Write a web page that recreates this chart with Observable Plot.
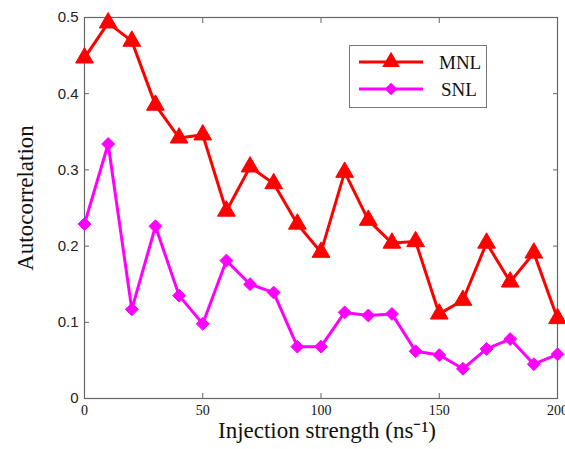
<!DOCTYPE html>
<html>
<head>
<meta charset="utf-8">
<script src="https://cdn.jsdelivr.net/npm/d3@7"></script>
<script src="https://cdn.jsdelivr.net/npm/@observablehq/plot@0.6"></script>
<style>
  html, body { margin: 0; padding: 0; background: #fff; }
  #wrap { position: relative; width: 565px; height: 449px; }
  #legend { position: absolute; left: 349px; top: 45px; width: 138px; height: 63px;
    border: 1px solid #777; background: #fff; box-sizing: border-box; }
</style>
</head>
<body>
<div id="wrap"></div>
<script>
const strengths = [0,10,20,30,40,50,60,70,80,90,100,110,120,130,140,150,160,170,180,190,200];
const mnl = [0.447,0.493,0.469,0.385,0.342,0.346,0.246,0.304,0.282,0.229,0.192,0.297,0.234,0.204,0.206,0.111,0.129,0.204,0.153,0.191,0.105];
const snl = [0.229,0.334,0.117,0.226,0.135,0.098,0.181,0.150,0.139,0.068,0.068,0.113,0.109,0.111,0.062,0.057,0.039,0.065,0.078,0.045,0.058];
const seriesNames = ["MNL", "SNL"];
const xTicks = [0,50,100,150,200];
const yTicks = [0,0.1,0.2,0.3,0.4,0.5];

const rowsM = strengths.map((x, i) => ({x, y: mnl[i]}));
const rowsS = strengths.map((x, i) => ({x, y: snl[i]}));

const serif = "'Liberation Serif', 'Times New Roman', serif";
const sans = "'Liberation Sans', Arial, sans-serif";

const chart = Plot.plot({
  width: 565,
  height: 449,
  marginLeft: 84,
  marginRight: 8,
  marginTop: 17,
  marginBottom: 51,
  style: {background: "#fff", overflow: "visible"},
  x: {domain: [0, 200]},
  y: {domain: [0, 0.5]},
  marks: [
    Plot.frame({stroke: "#666", strokeWidth: 1.2}),
    Plot.axisX(xTicks, {anchor: "bottom", tickSize: -5, stroke: "#666", tickPadding: 12,
      fontFamily: serif, fontSize: 14, fill: "#111", label: null}),
    Plot.axisX(xTicks, {anchor: "top", tickSize: -5, stroke: "#666", text: null, label: null}),
    Plot.axisY(yTicks, {anchor: "left", tickSize: -5, stroke: "#666", tickPadding: 11,
      fontFamily: sans, fontSize: 15, fill: "#222", label: null, tickFormat: d => d === 0 ? "0" : d3.format(".1f")(d)}),
    Plot.axisY(yTicks, {anchor: "right", tickSize: -5, stroke: "#666", text: null, label: null}),
    Plot.line(rowsS, {x: "x", y: "y", stroke: "#ff00ff", strokeWidth: 3}),
    Plot.dot(rowsS, {x: "x", y: "y", symbol: "diamond2", r: 5.8, fill: "#ff00ff", stroke: "#ff00ff", strokeWidth: 1}),
    Plot.line(rowsM, {x: "x", y: "y", stroke: "#ff0000", strokeWidth: 3}),
    Plot.dot(rowsM, {x: "x", y: "y", symbol: "triangle", r: 6.6, fill: "#ff0000", stroke: "#ff0000", strokeWidth: 1}),
    Plot.text(["Injection strength (ns\u207B\u00B9)"], {frameAnchor: "bottom", dx: 6, dy: 39, textAnchor: "middle", fontFamily: serif, fontSize: 23, fill: "#111"}),
    Plot.text(["Autocorrelation"], {frameAnchor: "left", dx: -59, dy: -10, textAnchor: "middle", rotate: -90, fontFamily: serif, fontSize: 23, fill: "#111"})
  ]
});
const wrap = document.getElementById("wrap");
wrap.appendChild(chart);

// Legend
const legend = document.createElement("div");
legend.id = "legend";
const colors = ["#ff0000", "#ff00ff"];
const syms = [d3.symbolTriangle, d3.symbolDiamond2];
const symSize = [135, 100];
const lsvg = d3.create("svg").attr("width", 138).attr("height", 63).style("position", "absolute").style("left", "-1px").style("top", "-1px");
seriesNames.forEach((name, i) => {
  const cy = 17 + i * 27;
  lsvg.append("line").attr("x1", 10).attr("x2", 74).attr("y1", cy).attr("y2", cy)
    .attr("stroke", colors[i]).attr("stroke-width", 3);
  lsvg.append("path").attr("d", d3.symbol(syms[i], symSize[i])())
    .attr("transform", `translate(42,${cy})`).attr("fill", colors[i]);
  lsvg.append("text").attr("x", 90 + (i ? 2 : 0)).attr("y", cy).attr("dy", "0.35em")
    .attr("font-family", serif).attr("font-size", 19).attr("fill", "#111").text(name);
});
legend.appendChild(lsvg.node());
wrap.appendChild(legend);
</script>
</body>
</html>
